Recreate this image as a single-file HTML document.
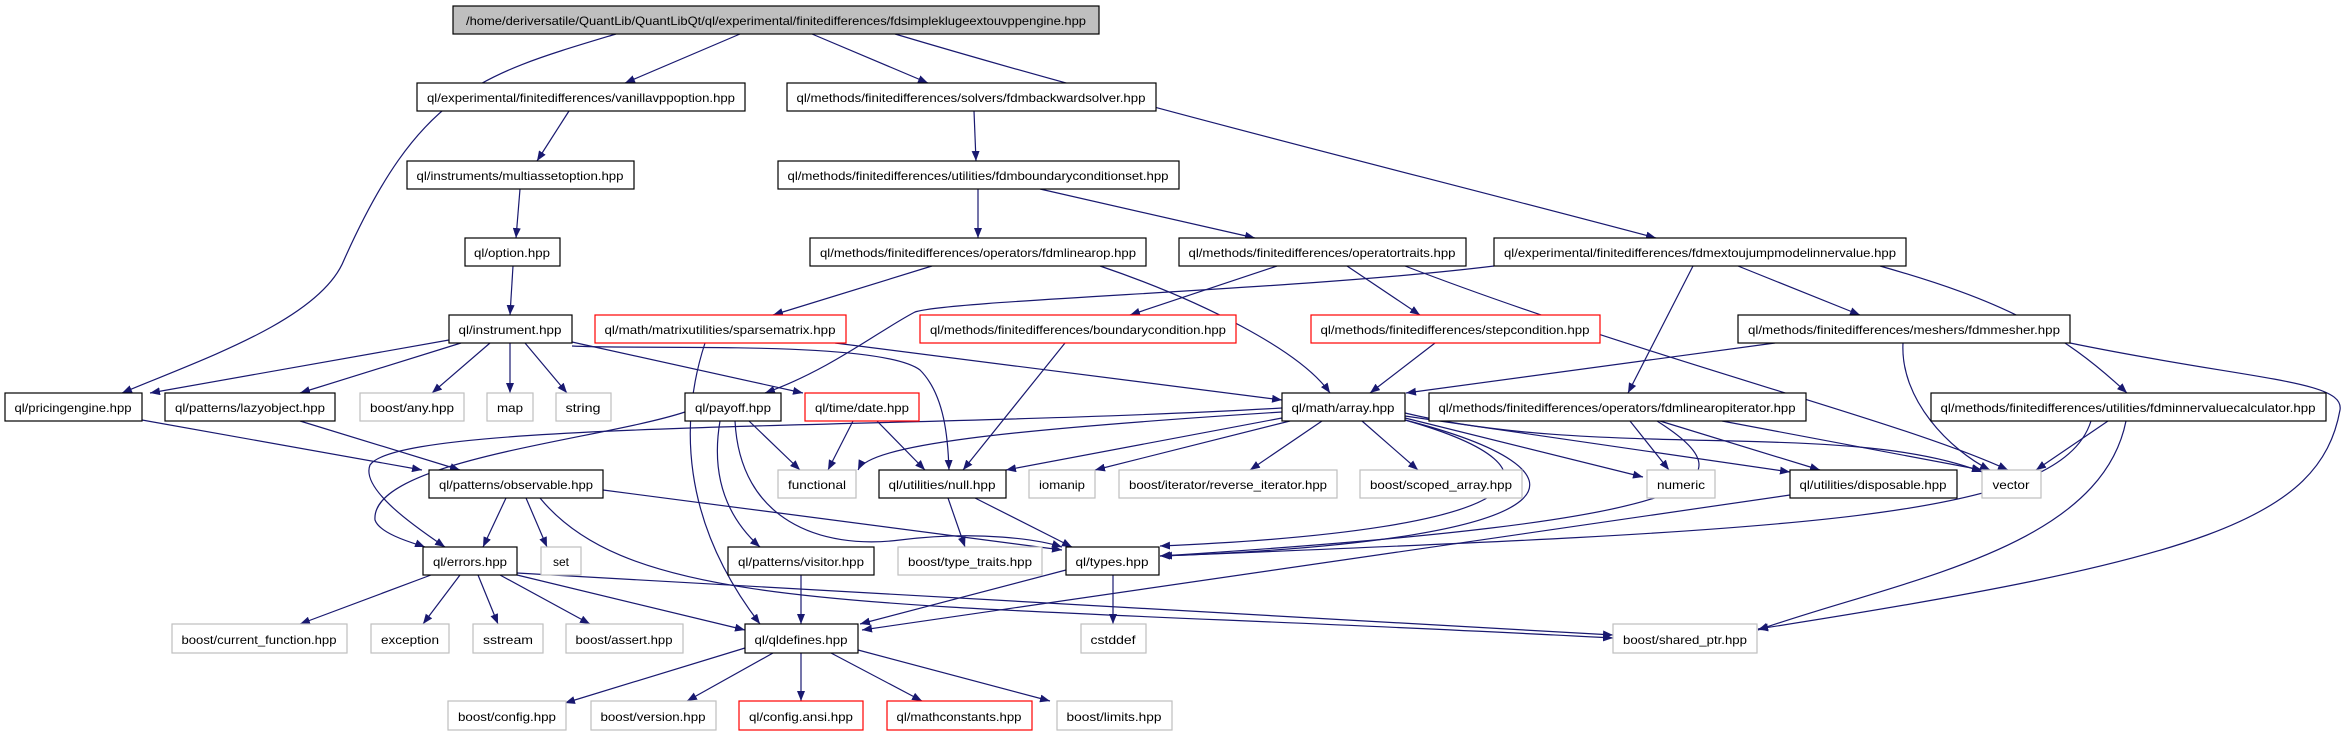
<!DOCTYPE html>
<html><head><meta charset="utf-8"><style>
html,body{margin:0;padding:0;background:#fff;}
svg{display:block;}
text{font-family:"Liberation Sans",sans-serif;font-size:12px;fill:#000;}
</style></head><body>
<svg width="2345" height="736" viewBox="0 0 2345 736" xmlns="http://www.w3.org/2000/svg">
<defs>
<marker id="a" markerWidth="10" markerHeight="8" refX="10" refY="4" orient="auto" markerUnits="userSpaceOnUse">
<path d="M0,0 L10,4 L0,8 z" fill="#191970"/>
</marker>
</defs>
<g fill="none" stroke="#191970" stroke-width="1.2" marker-end="url(#a)">
<path d="M616,34 C480,75 420,90 344,260 C320,320 200,360 122,393"/>
<path d="M740,34 L625,83"/>
<path d="M812,34 L928,83"/>
<path d="M895,34 C1150,110 1400,170 1656,238"/>
<path d="M569,111 L537,161"/>
<path d="M520,189 L516,238"/>
<path d="M513,266 L510,315"/>
<path d="M974,111 L976,161"/>
<path d="M978,189 L978,238"/>
<path d="M1040,189 L1255,238"/>
<path d="M932,266 L773,315"/>
<path d="M1100,266 C1200,300 1300,350 1330,393"/>
<path d="M1277,266 L1130,315"/>
<path d="M1347,266 L1420,315"/>
<path d="M1405,266 C1650,360 1900,420 2008,470"/>
<path d="M1494,266 C1300,290 950,300 915,312 C880,330 830,370 765,393"/>
<path d="M1693,266 L1628,393"/>
<path d="M1738,266 L1860,315"/>
<path d="M1880,266 C2000,300 2060,330 2127,393"/>
<path d="M449,340 L150,393"/>
<path d="M461,343 L300,393"/>
<path d="M490,343 L432,393"/>
<path d="M510,343 L510,393"/>
<path d="M525,343 L567,393"/>
<path d="M572,342 L803,393"/>
<path d="M572,346 C650,350 880,340 920,370 C945,395 948,440 949,470"/>
<path d="M705,343 C680,420 680,520 760,624"/>
<path d="M835,343 L1282,400"/>
<path d="M1065,343 L963,470"/>
<path d="M1435,343 L1370,393"/>
<path d="M1775,343 L1406,393"/>
<path d="M1903,343 C1900,400 1950,450 1990,470"/>
<path d="M2070,343 C2250,380 2345,380 2340,410 C2320,520 2200,560 1758,629"/>
<path d="M685,412 C600,440 370,460 375,520 C380,535 420,545 425,547"/>
<path d="M749,421 L800,470"/>
<path d="M720,421 C710,480 730,520 760,547"/>
<path d="M735,421 C740,520 820,550 900,540 C980,530 1040,540 1062,547"/>
<path d="M853,421 L828,470"/>
<path d="M877,421 L925,470"/>
<path d="M142,420 L422,470"/>
<path d="M300,421 L460,470"/>
<path d="M1282,408 C900,430 400,420 370,465 C360,490 420,530 445,547"/>
<path d="M1282,412 C1000,430 870,445 858,470"/>
<path d="M1282,418 L1006,470"/>
<path d="M1290,421 L1095,470"/>
<path d="M1322,421 L1250,470"/>
<path d="M1362,421 L1418,470"/>
<path d="M1405,418 L1643,477"/>
<path d="M1405,416 L1790,472"/>
<path d="M1405,413 C1600,460 1850,420 1982,472"/>
<path d="M1405,420 C1580,470 1540,530 1160,546"/>
<path d="M1405,420 C1600,470 1600,540 1160,556"/>
<path d="M506,498 L483,547"/>
<path d="M526,498 L547,547"/>
<path d="M603,490 L1062,550"/>
<path d="M540,498 C640,620 900,600 1613,638"/>
<path d="M431,575 L300,624"/>
<path d="M460,575 L423,624"/>
<path d="M478,575 L498,624"/>
<path d="M500,575 L590,624"/>
<path d="M517,575 L745,630"/>
<path d="M517,573 L1613,635"/>
<path d="M948,498 L965,547"/>
<path d="M975,498 L1072,547"/>
<path d="M801,575 L801,624"/>
<path d="M1066,570 L860,624"/>
<path d="M1113,575 L1113,624"/>
<path d="M745,648 L565,703"/>
<path d="M773,653 L687,701"/>
<path d="M801,653 L801,701"/>
<path d="M831,653 L922,701"/>
<path d="M858,650 L1050,701"/>
<path d="M1630,421 L1669,470"/>
<path d="M1660,421 L1820,470"/>
<path d="M1722,421 L1982,470"/>
<path d="M1657,421 C1750,480 1730,520 1160,556"/>
<path d="M1790,495 L862,630"/>
<path d="M2108,421 L2036,470"/>
<path d="M2091,421 C2060,520 1800,530 1162,556"/>
<path d="M2126,421 C2100,550 1900,580 1758,630"/>
</g>
<g stroke-width="1.2">
<!-- black nodes -->
<g fill="#fff" stroke="#000">
<rect x="417" y="83" width="328" height="28"/>
<rect x="787" y="83" width="369" height="28"/>
<rect x="407" y="161" width="227" height="28"/>
<rect x="778" y="161" width="401" height="28"/>
<rect x="465" y="238" width="95" height="28"/>
<rect x="810" y="238" width="336" height="28"/>
<rect x="1179" y="238" width="287" height="28"/>
<rect x="1494" y="238" width="412" height="28"/>
<rect x="449" y="315" width="123" height="28"/>
<rect x="1738" y="315" width="332" height="28"/>
<rect x="5" y="393" width="137" height="28"/>
<rect x="165" y="393" width="170" height="28"/>
<rect x="685" y="393" width="96" height="28"/>
<rect x="1282" y="393" width="123" height="28"/>
<rect x="1429" y="393" width="377" height="28"/>
<rect x="1931" y="393" width="395" height="28"/>
<rect x="429" y="470" width="174" height="28"/>
<rect x="879" y="470" width="127" height="28"/>
<rect x="1790" y="470" width="167" height="28"/>
<rect x="423" y="547" width="94" height="28"/>
<rect x="728" y="547" width="146" height="28"/>
<rect x="1066" y="547" width="93" height="28"/>
<rect x="745" y="624" width="113" height="29"/>
</g>
<g fill="#fff" stroke="#ff0000">
<rect x="595" y="315" width="251" height="28"/>
<rect x="920" y="315" width="316" height="28"/>
<rect x="1311" y="315" width="289" height="28"/>
<rect x="805" y="393" width="114" height="28"/>
<rect x="739" y="701" width="124" height="29"/>
<rect x="887" y="701" width="145" height="29"/>
</g>
<g fill="#fff" stroke="#bfbfbf">
<rect x="360" y="393" width="104" height="28"/>
<rect x="487" y="393" width="46" height="28"/>
<rect x="556" y="393" width="55" height="28"/>
<rect x="778" y="470" width="78" height="28"/>
<rect x="1029" y="470" width="66" height="28"/>
<rect x="1119" y="470" width="218" height="28"/>
<rect x="1360" y="470" width="162" height="28"/>
<rect x="1647" y="470" width="68" height="28"/>
<rect x="1982" y="470" width="59" height="28"/>
<rect x="541" y="547" width="40" height="28"/>
<rect x="898" y="547" width="144" height="28"/>
<rect x="172" y="624" width="175" height="29"/>
<rect x="371" y="624" width="78" height="29"/>
<rect x="473" y="624" width="70" height="29"/>
<rect x="566" y="624" width="117" height="29"/>
<rect x="1081" y="624" width="65" height="29"/>
<rect x="1613" y="624" width="144" height="29"/>
<rect x="448" y="701" width="118" height="29"/>
<rect x="591" y="701" width="125" height="29"/>
<rect x="1057" y="701" width="115" height="29"/>
</g>
<rect x="453" y="6" width="646" height="28" fill="#bfbfbf" stroke="#000"/>
</g>
<g text-anchor="middle">
<text x="776" y="25" textLength="620" lengthAdjust="spacingAndGlyphs">/home/deriversatile/QuantLib/QuantLibQt/ql/experimental/finitedifferences/fdsimpleklugeextouvppengine.hpp</text>
<text x="581" y="102" textLength="308" lengthAdjust="spacingAndGlyphs">ql/experimental/finitedifferences/vanillavppoption.hpp</text>
<text x="971" y="102" textLength="349" lengthAdjust="spacingAndGlyphs">ql/methods/finitedifferences/solvers/fdmbackwardsolver.hpp</text>
<text x="520" y="180" textLength="207" lengthAdjust="spacingAndGlyphs">ql/instruments/multiassetoption.hpp</text>
<text x="978" y="180" textLength="381" lengthAdjust="spacingAndGlyphs">ql/methods/finitedifferences/utilities/fdmboundaryconditionset.hpp</text>
<text x="512" y="257" textLength="76" lengthAdjust="spacingAndGlyphs">ql/option.hpp</text>
<text x="978" y="257" textLength="316" lengthAdjust="spacingAndGlyphs">ql/methods/finitedifferences/operators/fdmlinearop.hpp</text>
<text x="1322" y="257" textLength="267" lengthAdjust="spacingAndGlyphs">ql/methods/finitedifferences/operatortraits.hpp</text>
<text x="1700" y="257" textLength="392" lengthAdjust="spacingAndGlyphs">ql/experimental/finitedifferences/fdmextoujumpmodelinnervalue.hpp</text>
<text x="510" y="334" textLength="103" lengthAdjust="spacingAndGlyphs">ql/instrument.hpp</text>
<text x="720" y="334" textLength="231" lengthAdjust="spacingAndGlyphs">ql/math/matrixutilities/sparsematrix.hpp</text>
<text x="1078" y="334" textLength="296" lengthAdjust="spacingAndGlyphs">ql/methods/finitedifferences/boundarycondition.hpp</text>
<text x="1455" y="334" textLength="269" lengthAdjust="spacingAndGlyphs">ql/methods/finitedifferences/stepcondition.hpp</text>
<text x="1904" y="334" textLength="312" lengthAdjust="spacingAndGlyphs">ql/methods/finitedifferences/meshers/fdmmesher.hpp</text>
<text x="73" y="412" textLength="117" lengthAdjust="spacingAndGlyphs">ql/pricingengine.hpp</text>
<text x="250" y="412" textLength="150" lengthAdjust="spacingAndGlyphs">ql/patterns/lazyobject.hpp</text>
<text x="412" y="412" textLength="84" lengthAdjust="spacingAndGlyphs">boost/any.hpp</text>
<text x="510" y="412" textLength="26" lengthAdjust="spacingAndGlyphs">map</text>
<text x="583" y="412" textLength="35" lengthAdjust="spacingAndGlyphs">string</text>
<text x="733" y="412" textLength="76" lengthAdjust="spacingAndGlyphs">ql/payoff.hpp</text>
<text x="862" y="412" textLength="94" lengthAdjust="spacingAndGlyphs">ql/time/date.hpp</text>
<text x="1343" y="412" textLength="103" lengthAdjust="spacingAndGlyphs">ql/math/array.hpp</text>
<text x="1617" y="412" textLength="357" lengthAdjust="spacingAndGlyphs">ql/methods/finitedifferences/operators/fdmlinearopiterator.hpp</text>
<text x="2128" y="412" textLength="375" lengthAdjust="spacingAndGlyphs">ql/methods/finitedifferences/utilities/fdminnervaluecalculator.hpp</text>
<text x="516" y="489" textLength="154" lengthAdjust="spacingAndGlyphs">ql/patterns/observable.hpp</text>
<text x="817" y="489" textLength="58" lengthAdjust="spacingAndGlyphs">functional</text>
<text x="942" y="489" textLength="107" lengthAdjust="spacingAndGlyphs">ql/utilities/null.hpp</text>
<text x="1062" y="489" textLength="46" lengthAdjust="spacingAndGlyphs">iomanip</text>
<text x="1228" y="489" textLength="198" lengthAdjust="spacingAndGlyphs">boost/iterator/reverse_iterator.hpp</text>
<text x="1441" y="489" textLength="142" lengthAdjust="spacingAndGlyphs">boost/scoped_array.hpp</text>
<text x="1681" y="489" textLength="48" lengthAdjust="spacingAndGlyphs">numeric</text>
<text x="1873" y="489" textLength="147" lengthAdjust="spacingAndGlyphs">ql/utilities/disposable.hpp</text>
<text x="2011" y="489" textLength="37" lengthAdjust="spacingAndGlyphs">vector</text>
<text x="470" y="566" textLength="74" lengthAdjust="spacingAndGlyphs">ql/errors.hpp</text>
<text x="561" y="566" textLength="16" lengthAdjust="spacingAndGlyphs">set</text>
<text x="801" y="566" textLength="126" lengthAdjust="spacingAndGlyphs">ql/patterns/visitor.hpp</text>
<text x="970" y="566" textLength="124" lengthAdjust="spacingAndGlyphs">boost/type_traits.hpp</text>
<text x="1112" y="566" textLength="73" lengthAdjust="spacingAndGlyphs">ql/types.hpp</text>
<text x="259" y="644" textLength="155" lengthAdjust="spacingAndGlyphs">boost/current_function.hpp</text>
<text x="410" y="644" textLength="58" lengthAdjust="spacingAndGlyphs">exception</text>
<text x="508" y="644" textLength="50" lengthAdjust="spacingAndGlyphs">sstream</text>
<text x="624" y="644" textLength="97" lengthAdjust="spacingAndGlyphs">boost/assert.hpp</text>
<text x="801" y="644" textLength="93" lengthAdjust="spacingAndGlyphs">ql/qldefines.hpp</text>
<text x="1113" y="644" textLength="45" lengthAdjust="spacingAndGlyphs">cstddef</text>
<text x="1685" y="644" textLength="124" lengthAdjust="spacingAndGlyphs">boost/shared_ptr.hpp</text>
<text x="507" y="721" textLength="98" lengthAdjust="spacingAndGlyphs">boost/config.hpp</text>
<text x="653" y="721" textLength="105" lengthAdjust="spacingAndGlyphs">boost/version.hpp</text>
<text x="801" y="721" textLength="104" lengthAdjust="spacingAndGlyphs">ql/config.ansi.hpp</text>
<text x="959" y="721" textLength="125" lengthAdjust="spacingAndGlyphs">ql/mathconstants.hpp</text>
<text x="1114" y="721" textLength="95" lengthAdjust="spacingAndGlyphs">boost/limits.hpp</text>
</g>
</svg>
</body></html>
